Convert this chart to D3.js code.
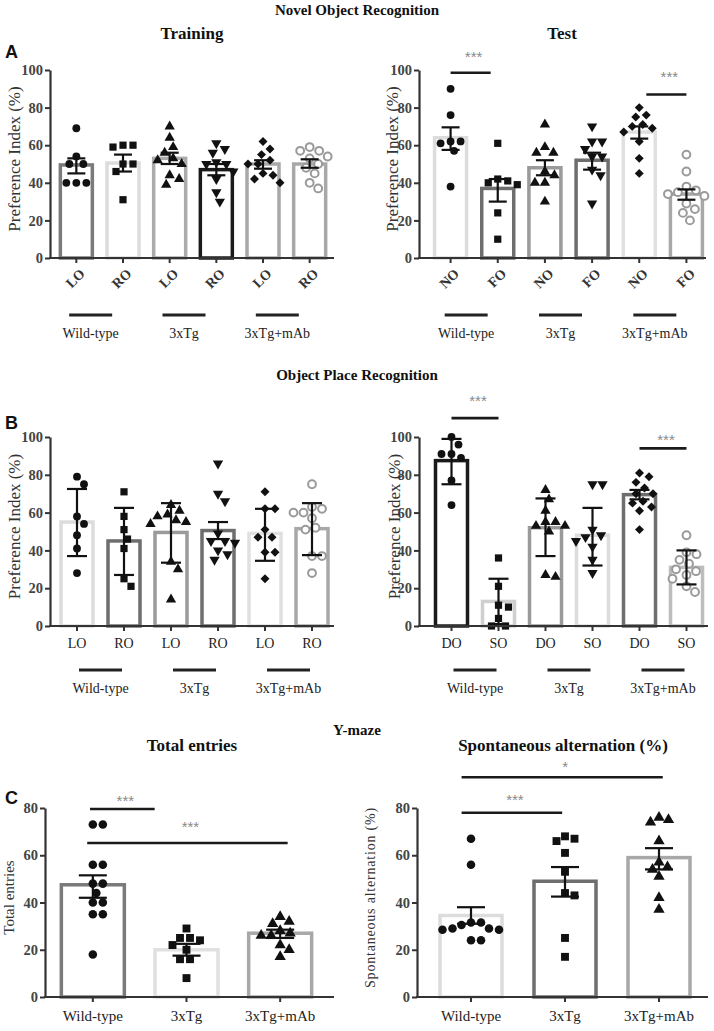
<!DOCTYPE html>
<html><head><meta charset="utf-8">
<script src="https://cdn.jsdelivr.net/npm/d3@7"></script>
<style>body{margin:0;background:#fff}</style>
</head><body>
<svg id="chart" width="714" height="1031"></svg>
<script>
// ---------------- DATA ----------------
const groupNames = ["Wild-type", "3xTg", "3xTg+mAb"];

// A - Novel Object Recognition, Training
const norTrainCats = ["LO", "RO", "LO", "RO", "LO", "RO"];
const norTrainMean = [49.5, 50.5, 53, 47, 50, 50];
const norTrainLow  = [45, 46, 50, 44, 47.5, 48];
const norTrainHigh = [53, 55, 56, 50, 52, 52.5];
const norTrainPts = [
  [69, 54, 50, 50, 40, 40, 40],
  [60, 59, 60, 50, 50, 46, 31],
  [70, 64, 59, 56, 53, 52, 50, 44, 42, 39],
  [61, 58, 56, 51, 50, 50, 46, 42, 35, 30],
  [62, 58, 55, 52, 50, 50, 45, 44, 42, 40],
  [59, 57, 57, 54, 53, 50, 48, 45, 40, 37]
];

// A - Novel Object Recognition, Test
const norTestCats = ["NO", "FO", "NO", "FO", "NO", "FO"];
const norTestMean = [64, 37, 48, 52, 67, 34];
const norTestLow  = [57.5, 30, 44, 47, 63.5, 31];
const norTestHigh = [69.5, 42, 52, 56, 70, 36.5];
const norTestPts = [
  [90, 76, 62, 62, 61, 57, 38],
  [61, 42, 41, 40, 39, 24, 10],
  [71, 59, 56, 56, 46, 44, 40, 40, 30],
  [70, 62, 62, 58, 54, 54, 47, 44, 29],
  [80, 76, 75, 71, 70, 69, 67, 62, 53, 45],
  [55, 46, 38, 36, 35, 34, 33, 29, 26, 24, 20]
];
// [fromIndex, toIndex, lineValue, starValue, label]
const norTestSig = [[0, 0.85, 98.5, 109, "***"], [4.15, 5, 87, 98.5, "***"]];

// B - Object Place Recognition, Training
const oprTrainCats = ["LO", "RO", "LO", "RO", "LO", "RO"];
const oprTrainMean = [55, 45, 49.5, 50.5, 49, 51.5];
const oprTrainLow  = [37, 27, 33.5, 46, 34.5, 37.5];
const oprTrainHigh = [72.5, 62.5, 65, 55, 62, 65];
const oprTrainPts = [
  [79, 75, 58, 54, 48, 41, 28],
  [71, 58, 51, 46, 41, 25, 21],
  [64, 61, 59, 58, 56, 55, 54, 34, 30, 14],
  [86, 70, 66, 49, 45, 45, 44, 40, 38, 35],
  [71, 62, 62, 51, 47, 47, 39, 39, 25],
  [75, 63, 62, 60, 60, 57, 52, 51, 37, 37, 28]
];

// B - Object Place Recognition, Test
const oprTestCats = ["DO", "SO", "DO", "SO", "DO", "SO"];
const oprTestMean = [87.5, 13, 52, 48, 69.5, 31];
const oprTestLow  = [75, 1, 37, 32, 67, 22];
const oprTestHigh = [99, 25, 67.5, 62.5, 72, 40];
const oprTestPts = [
  [100, 96, 91, 91, 89, 77, 64],
  [36, 21, 11, 10, 4, 0, 0],
  [72, 67, 61, 55, 55, 53, 53, 50, 27, 26],
  [75, 75, 51, 48, 47, 45, 42, 35, 28],
  [81, 79, 76, 73, 70, 70, 66, 65, 63, 61, 51],
  [48, 39, 38, 35, 33, 30, 29, 27, 25, 21, 18]
];
const oprTestSig = [[0, 1, 110, 121, "***"], [4, 5, 94, 100.5, "***"]];

// C - Y-maze, Total entries
const totalCats = ["Wild-type", "3xTg", "3xTg+mAb"];
const totalMean = [47.5, 20, 27];
const totalLow  = [42, 17.5, 25];
const totalHigh = [51.5, 22.5, 28.5];
const totalPts = [
  [73, 73, 56, 56, 48, 48, 44, 40, 40, 35, 35, 18],
  [29, 25, 25, 24, 22, 20, 16, 16, 8],
  [34, 32, 31, 28, 27, 26, 26, 22, 20, 17]
];
const totalSig = [[-0.03, 0.66, 79.6, 84.5, "***"], [-0.06, 2.08, 65.2, 73.5, "***"]];

// C - Y-maze, Spontaneous alternation
const altCats = ["Wild-type", "3xTg", "3xTg+mAb"];
const altMean = [34.5, 49, 59];
const altLow  = [31, 42.5, 54];
const altHigh = [38, 55, 63];
const altPts = [
  [67, 56, 31.5, 30.5, 29, 28.5, 28.5, 29, 31.5, 24, 24],
  [68, 67, 66, 61, 53, 44, 43, 25, 17],
  [76, 75, 74, 66, 57, 55, 54, 51, 42, 37]
];
const altSig = [[-0.1, 2.04, 93, 99, "*"], [-0.1, 0.97, 78, 85, "***"]];

// ---------------- STYLES ----------------
const SERIF = "'Liberation Serif','Times New Roman',serif";
const SANS = "'Liberation Sans',Arial,sans-serif";
const shapes6 = ["circle", "square", "triangle", "triangleDown", "diamond", "openCircle"];
const shapes3 = ["circle", "square", "triangle"];

const svg = d3.select("#chart");

function symbolPath(shape, big) {
  const k = big ? 1.2 : 1;
  switch (shape) {
    case "circle": case "openCircle": return d3.symbol(d3.symbolCircle, 48 * k)();
    case "square": return d3.symbol(d3.symbolSquare, 52 * k)();
    case "triangle": case "triangleDown": return d3.symbol(d3.symbolTriangle, 46 * k)();
    case "diamond": return d3.symbol(d3.symbolSquare, 40 * k)();
  }
}

function swarm(vals, y, r) {
  const order = vals.map((v, i) => i).sort((a, b) => vals[b] - vals[a]);
  const placed = [], out = new Array(vals.length);
  for (const i of order) {
    const py = y(vals[i]);
    let dx = 0;
    for (let k = 0; k < 400; k++) {
      const c = k === 0 ? 0 : (k % 2 ? 1 : -1) * Math.ceil(k / 2) * 0.5;
      if (placed.every(p => Math.hypot(p[0] - c, p[1] - py) >= 2 * r)) { dx = c; break; }
    }
    placed.push([dx, py]);
    out[i] = [dx, py];
  }
  return out;
}

function panel(cfg) {
  const g = svg.append("g");
  const n = cfg.cats.length;
  const y = d3.scaleLinear().domain([0, cfg.yMax]).range([cfg.yBot, cfg.yTop]);
  const x = d3.scaleBand().domain(d3.range(n)).range(cfg.xRange).paddingInner(0).paddingOuter(0);
  const cx = i => x(i) + x.bandwidth() / 2;
  const cxF = f => cx(0) + f * x.step();

  // bars
  g.selectAll("rect.bar").data(cfg.means).join("rect")
    .attr("x", (d, i) => cx(i) - cfg.bw / 2)
    .attr("width", cfg.bw)
    .attr("y", d => y(d))
    .attr("height", d => cfg.yBot - y(d))
    .attr("fill", "#fff")
    .attr("stroke", (d, i) => cfg.strokes[i])
    .attr("stroke-width", 3.5);

  // points
  cfg.pts.forEach((vals, i) => {
    const pos = swarm(vals, y, cfg.sr);
    const shape = cfg.shapes[i];
    g.selectAll(null).data(vals).join("path")
      .attr("d", symbolPath(shape, cfg.big))
      .attr("transform", (d, j) => {
        let t = `translate(${cx(i) + pos[j][0]},${pos[j][1]})`;
        if (shape === "triangleDown") t += " rotate(180)";
        if (shape === "diamond") t += " rotate(45)";
        return t;
      })
      .attr("fill", shape === "openCircle" ? "#fff" : "#111")
      .attr("stroke", shape === "openCircle" ? "#9a9a9a" : "none")
      .attr("stroke-width", 2);
  });

  // error bars
  cfg.means.forEach((m, i) => {
    const c = cx(i), lo = y(cfg.lows[i]), hi = y(cfg.highs[i]);
    const eg = g.append("g").attr("stroke", "#111").attr("stroke-width", 2.2);
    eg.append("line").attr("x1", c).attr("x2", c).attr("y1", lo).attr("y2", hi);
    eg.append("line").attr("x1", c - cfg.cap / 2).attr("x2", c + cfg.cap / 2).attr("y1", lo).attr("y2", lo);
    eg.append("line").attr("x1", c - cfg.cap / 2).attr("x2", c + cfg.cap / 2).attr("y1", hi).attr("y2", hi);
  });

  // y axis
  const ya = g.append("g").attr("transform", `translate(${cfg.axisX},0)`)
    .call(d3.axisLeft(y).tickValues(d3.range(0, cfg.yMax + 1, 20)).tickSize(5).tickSizeOuter(0).tickPadding(2));
  ya.attr("font-family", null).attr("font-size", null);
  ya.select(".domain").attr("stroke", "#333").attr("stroke-width", 2.2);
  ya.selectAll(".tick line").attr("stroke", "#333").attr("stroke-width", 2);
  ya.selectAll(".tick text").style("font-family", SERIF).style("font-weight", "bold")
    .style("font-size", "14.5px").attr("fill", "#444");

  // x axis
  g.append("line").attr("x1", cfg.axisX - 1).attr("x2", cfg.axisEnd)
    .attr("y1", cfg.yBot).attr("y2", cfg.yBot).attr("stroke", "#333").attr("stroke-width", 2.2);
  const xa = g.append("g").attr("transform", `translate(0,${cfg.yBot})`)
    .call(d3.axisBottom(x).tickSize(5).tickSizeOuter(0).tickFormat(i => cfg.cats[i]));
  xa.attr("font-family", null).attr("font-size", null);
  xa.select(".domain").remove();
  xa.selectAll(".tick line").attr("stroke", "#333").attr("stroke-width", 2);
  if (cfg.rot) {
    xa.selectAll(".tick text").remove();
    g.append("g").selectAll("text").data(cfg.cats).join("text")
      .attr("transform", (d, i) => `translate(${cx(i) + 6},${cfg.yBot + 13}) rotate(-45)`)
      .attr("text-anchor", "end").attr("dy", "0.35em")
      .style("font-family", SERIF).style("font-weight", "bold").style("font-size", "14px")
      .attr("fill", "#333").text(d => d);
  } else {
    xa.selectAll(".tick text").style("font-family", SERIF).style("font-size", (cfg.xFs || 14) + "px")
      .attr("fill", "#222").attr("y", cfg.xLabDy || 12);
  }

  // y title
  g.append("text")
    .attr("transform", `translate(${cfg.titleX},${(cfg.yTop + cfg.yBot) / 2 - 5}) rotate(-90)`)
    .attr("text-anchor", "middle").attr("dominant-baseline", "central")
    .style("font-family", SERIF).style("font-size", (cfg.titleFs || 17) + "px").attr("fill", "#333")
    .attr("letter-spacing", cfg.titleLs || 0)
    .text(cfg.yTitle);

  // groups
  if (cfg.groupY) {
    for (let k = 0; k < 3; k++) {
      const c = (cx(2 * k) + cx(2 * k + 1)) / 2 + (cfg.groupOff || 0);
      g.append("line").attr("x1", c - 21.5).attr("x2", c + 21.5)
        .attr("y1", cfg.groupY).attr("y2", cfg.groupY).attr("stroke", "#222").attr("stroke-width", 3);
      g.append("text").attr("x", c).attr("y", cfg.groupY + 23).attr("text-anchor", "middle")
        .style("font-family", SERIF).style("font-size", "14px").attr("fill", "#222").text(groupNames[k]);
    }
  }

  // significance
  (cfg.sig || []).forEach(s => {
    const x1 = cxF(s[0]), x2 = cxF(s[1]);
    g.append("line").attr("x1", x1).attr("x2", x2).attr("y1", y(s[2])).attr("y2", y(s[2]))
      .attr("stroke", "#1a1a1a").attr("stroke-width", 2.6);
    g.append("text").attr("x", (x1 + x2) / 2 + 3).attr("y", y(s[3]) + 9)
      .attr("text-anchor", "middle").style("font-family", SANS).style("font-size", "15px")
      .attr("fill", "#8a8a8a").text(s[4]);
  });
}

const grey6a = ["#7a7a7a", "#dcdcdc", "#ababab", "#1a1a1a", "#a8a8a8", "#a8a8a8"];
const grey6b = ["#dcdcdc", "#6e6e6e", "#9a9a9a", "#6e6e6e", "#e0e0e0", "#a8a8a8"];
const grey6c = ["#1a1a1a", "#cfcfcf", "#9a9a9a", "#dcdcdc", "#6e6e6e", "#bdbdbd"];

panel({ cats: norTrainCats, means: norTrainMean, lows: norTrainLow, highs: norTrainHigh, pts: norTrainPts,
  strokes: grey6a, shapes: shapes6, axisX: 50, axisEnd: 334, yTop: 70, yBot: 258, yMax: 100,
  xRange: [53, 333], bw: 32, cap: 18, sr: 5, rot: true, titleX: 14, yTitle: "Preference Index (%)",
  groupY: 315, groupOff: -9 });
panel({ cats: norTestCats, means: norTestMean, lows: norTestLow, highs: norTestHigh, pts: norTestPts,
  strokes: grey6b, shapes: shapes6, axisX: 419, axisEnd: 706, yTop: 70, yBot: 258, yMax: 100,
  xRange: [427, 710], bw: 32, cap: 18, sr: 5, rot: true, titleX: 392, yTitle: "Preference Index (%)",
  groupY: 315, groupOff: -8, sig: norTestSig });
panel({ cats: oprTrainCats, means: oprTrainMean, lows: oprTrainLow, highs: oprTrainHigh, pts: oprTrainPts,
  strokes: grey6b, shapes: shapes6, axisX: 50, axisEnd: 334, yTop: 437, yBot: 626, yMax: 100,
  xRange: [53.5, 335.5], bw: 32, cap: 20, sr: 5, rot: false, titleX: 14, yTitle: "Preference Index (%)",
  groupY: 670, groupOff: 0 });
panel({ cats: oprTestCats, means: oprTestMean, lows: oprTestLow, highs: oprTestHigh, pts: oprTestPts,
  strokes: grey6c, shapes: shapes6, axisX: 419, axisEnd: 708, yTop: 437, yBot: 626, yMax: 100,
  xRange: [428, 710], bw: 32, cap: 20, sr: 5, rot: false, titleX: 394, yTitle: "Preference Index (%)",
  groupY: 670, groupOff: 0, sig: oprTestSig });
panel({ cats: totalCats, means: totalMean, lows: totalLow, highs: totalHigh, pts: totalPts,
  strokes: ["#7a7a7a", "#e0e0e0", "#a8a8a8"], shapes: shapes3, axisX: 45, axisEnd: 334, yTop: 808, yBot: 997, yMax: 80,
  xRange: [46, 327], bw: 63, cap: 28, sr: 5.0, big: true, rot: false, xFs: 15, xLabDy: 13,
  titleX: 9, titleFs: 15, yTitle: "Total entries", sig: totalSig });
panel({ cats: altCats, means: altMean, lows: altLow, highs: altHigh, pts: altPts,
  strokes: ["#dcdcdc", "#6e6e6e", "#a8a8a8"], shapes: shapes3, axisX: 417, axisEnd: 708, yTop: 808, yBot: 997, yMax: 80,
  xRange: [424, 706], bw: 62, cap: 28, sr: 4.8, big: true, rot: false, xFs: 15, xLabDy: 13,
  titleX: 370, titleFs: 14, titleLs: 0.8, yTitle: "Spontaneous alternation (%)", sig: altSig });

// titles
function title(txt, x, y, fs, fam, anchor) {
  svg.append("text").attr("x", x).attr("y", y).attr("text-anchor", anchor || "middle")
    .style("font-family", fam || SERIF).style("font-weight", "bold").style("font-size", fs + "px")
    .attr("fill", "#111").text(txt);
}
title("Novel Object Recognition", 357, 15, 15);
title("Training", 192, 39, 17);
title("Test", 562, 39, 17);
title("A", 5, 58, 18, SANS, "start");
title("Object Place Recognition", 357, 380, 15);
title("B", 5, 429, 18, SANS, "start");
title("Y-maze", 357, 735, 15);
title("Total entries", 192, 751, 17);
title("Spontaneous alternation (%)", 563, 751, 17);
title("C", 5, 804, 18, SANS, "start");
</script>
</body></html>
